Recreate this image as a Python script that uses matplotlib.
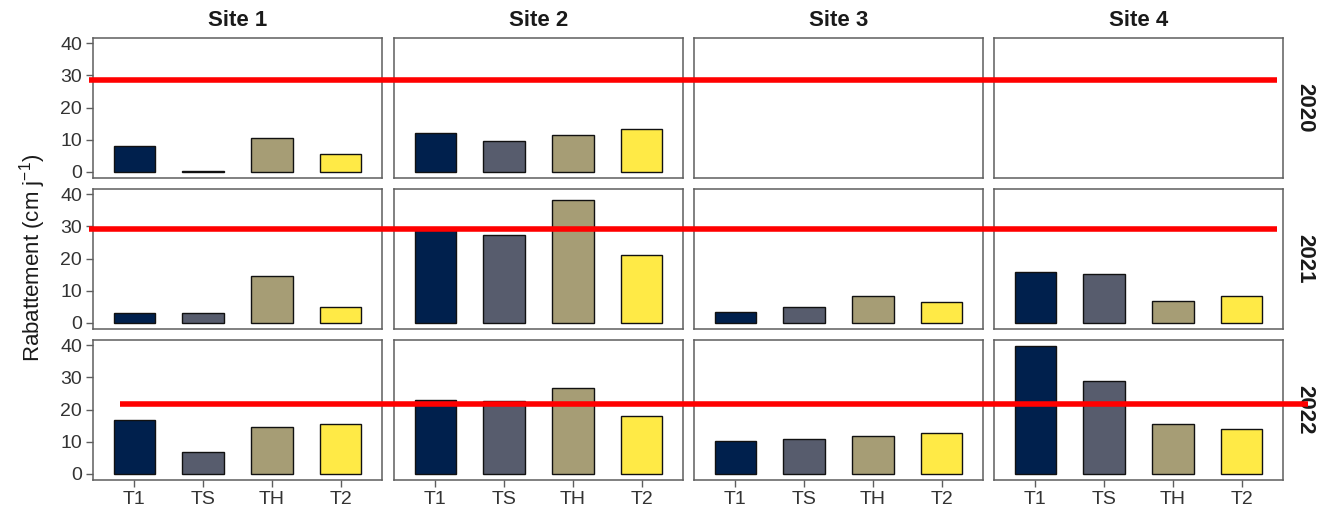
import matplotlib
matplotlib.use("Agg")
import matplotlib.pyplot as plt
import matplotlib.transforms as mtransforms
from matplotlib.lines import Line2D

plt.rcParams['font.family'] = ['Liberation Sans', 'DejaVu Sans']
plt.rcParams['mathtext.fontset'] = 'custom'
plt.rcParams['mathtext.rm'] = 'Liberation Sans'
plt.rcParams['mathtext.it'] = 'Liberation Sans:italic'
plt.rcParams['mathtext.bf'] = 'Liberation Sans:bold'

# ---- data ----
sites = ["Site 1", "Site 2", "Site 3", "Site 4"]
years = ["2020", "2021", "2022"]
treatments = ["T1", "TS", "TH", "T2"]
colors = ["#00204D", "#575C6D", "#A69D75", "#FFEA46"]

# drawdown per site (rows) and treatment (columns); None = not measured
values_2020 = [[8.1, 0.3, 10.4, 5.6],
               [11.9, 9.5, 11.4, 13.3],
               [None, None, None, None],
               [None, None, None, None]]
values_2021 = [[3.0, 2.9, 14.7, 4.9],
               [28.8, 27.4, 38.1, 21.0],
               [3.4, 4.9, 8.3, 6.3],
               [15.7, 15.1, 6.9, 8.3]]
values_2022 = [[16.6, 6.6, 14.5, 15.5],
               [22.9, 22.6, 26.8, 18.1],
               [10.3, 10.7, 11.6, 12.6],
               [39.7, 28.8, 15.6, 14.0]]
values_by_year = [values_2020, values_2021, values_2022]

# reference drawdown per year (horizontal red line)
reference = [28.5, 29.3, 21.6]

# ---- layout (pixels) ----
W, H = 1324, 514
fig = plt.figure(figsize=(W / 100, H / 100), dpi=100)
col_left = [93, 394, 694, 994]
panel_w = 289
row_top = [38, 189, 340]
panel_h = 140
line_span = [(89, 1277), (89, 1277), (120, 1308)]

ymax_data = 39.7
pad = 0.05 * ymax_data
ylim = (-pad, ymax_data + pad)

border_col = "#5E5E5E"
tick_col = "#333333"
axes_grid = []
for r, year in enumerate(years):
    row_axes = []
    for c, site in enumerate(sites):
        ax = fig.add_axes([col_left[c] / W, 1 - (row_top[r] + panel_h) / H,
                           panel_w / W, panel_h / H])
        vals = values_by_year[r][c]
        xs = [i for i, v in enumerate(vals) if v is not None]
        hs = [v for v in vals if v is not None]
        cs = [colors[i] for i, v in enumerate(vals) if v is not None]
        if xs:
            ax.bar(xs, hs, width=0.6, color=cs, edgecolor="#111111",
                   linewidth=1.0, zorder=2)
        ax.set_xlim(-0.6, 3.6)
        ax.set_ylim(*ylim)
        for s in ax.spines.values():
            s.set_color(border_col)
            s.set_linewidth(1.1)
        ax.set_xticks(range(4))
        ax.set_yticks([0, 10, 20, 30, 40])
        ax.tick_params(axis='both', colors=border_col, length=5, width=1.0,
                       labelcolor=tick_col, labelsize=14, pad=3)
        if c == 0:
            ax.set_yticklabels(["0", "10", "20", "30", "40"])
        else:
            ax.tick_params(axis='y', left=False, labelleft=False)
        if r == len(years) - 1:
            ax.set_xticklabels(treatments)
        else:
            ax.tick_params(axis='x', bottom=False, labelbottom=False)
        if r == 0:
            ax.set_title(site, fontsize=16, fontweight='bold',
                         color="#1A1A1A", pad=9)
        if c == len(sites) - 1:
            ax.text(1.075, 0.5, year, transform=ax.transAxes, rotation=-90,
                    ha='center', va='center', fontsize=16,
                    fontweight='bold', color="#1A1A1A")
        row_axes.append(ax)
    axes_grid.append(row_axes)

# reference lines spanning all site panels of each year
for r, ref in enumerate(reference):
    ax0 = axes_grid[r][0]
    trans = mtransforms.blended_transform_factory(fig.transFigure, ax0.transData)
    x0, x1 = line_span[r]
    fig.add_artist(Line2D([x0 / W, x1 / W], [ref, ref], transform=trans,
                          color="#FF0000", linewidth=4.0, solid_capstyle='butt',
                          zorder=5))

fig.text(33 / W, 1 - 258 / H, r"Rabattement (cm j$^{-1}$)", rotation=90,
         ha='center', va='center', fontsize=16, color="#1A1A1A")

fig.savefig("out.png", dpi=100, facecolor="white")
